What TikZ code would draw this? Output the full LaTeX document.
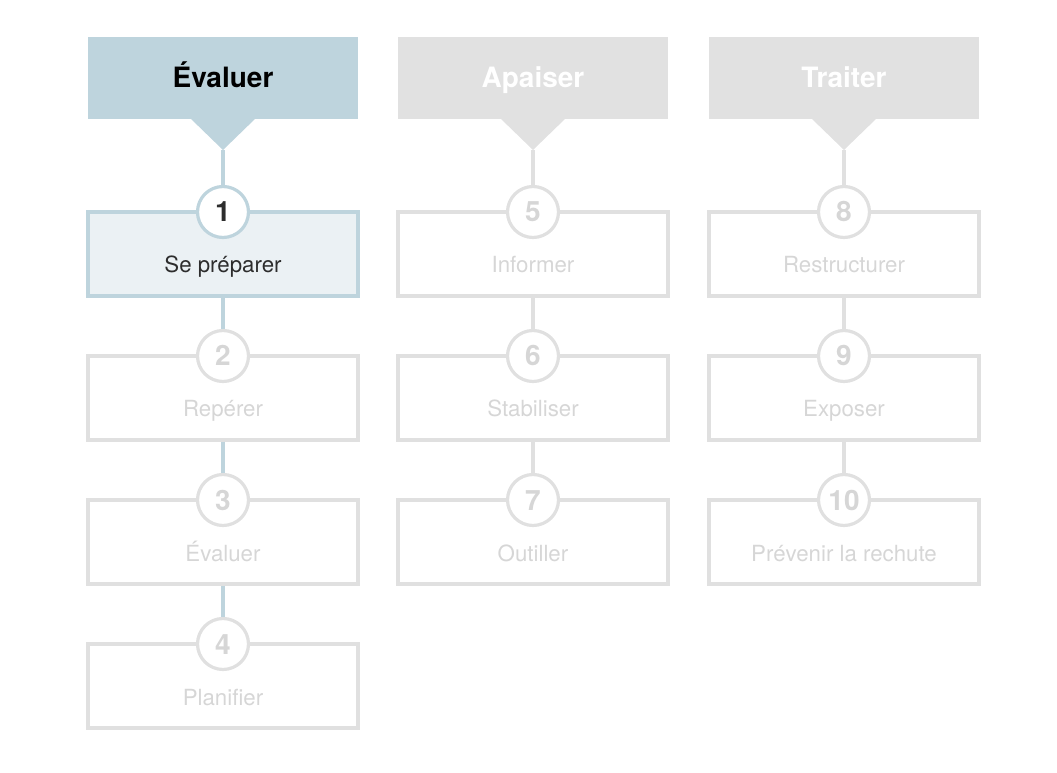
\documentclass[tikz,border=0pt]{standalone}
\usepackage{fontspec}
\setmainfont{TeX Gyre Heros}
\usetikzlibrary{positioning}
\definecolor{evalblue}{RGB}{190,212,221}
\definecolor{evalpale}{RGB}{235,241,244}
\definecolor{offgrey}{RGB}{225,225,225}
\definecolor{offline}{RGB}{224,224,224}
\definecolor{offtext}{RGB}{214,214,214}
\definecolor{ontext}{RGB}{45,45,45}
\tikzset{
	header/.style={fill=#1, minimum width=202.5pt, minimum height=61.5pt, inner sep=0pt, text height=15.5pt, text depth=1pt, font=\fontsize{21}{24}\selectfont\bfseries},
	stepbox/.style={draw=#1, line width=2.4pt, minimum width=202.5pt, minimum height=63pt, inner sep=0pt},
	num/.style={circle, draw=#1, fill=white, line width=2.4pt, minimum size=38.25pt, inner sep=0pt, text height=15pt, text depth=0pt, font=\fontsize{21}{24}\selectfont\bfseries},
	steptext/.style={anchor=base, font=\fontsize{16.7}{19}\selectfont},
	link/.style={draw=#1, line width=2.4pt}
}
\begin{document}
\begin{tikzpicture}[x=0.75pt, y=-0.75pt]
		%%%%% START %%%%%
		\useasboundingbox (0, 0) rectangle (1057, 773);
		
		% headers
		\node[header=evalblue, text=black] (h1) at (223, 78) {Évaluer};
		\fill[evalblue] (190, 118) -- (256, 118) -- (223, 150) -- cycle;
		\coordinate (t1) at (223, 150);
		
		\node[header=offgrey, text=white] (h2) at (533, 78) {Apaiser};
		\fill[offgrey] (500, 118) -- (566, 118) -- (533, 150) -- cycle;
		\coordinate (t2) at (533, 150);
		
		\node[header=offgrey, text=white] (h3) at (844, 78) {Traiter};
		\fill[offgrey] (811, 118) -- (877, 118) -- (844, 150) -- cycle;
		\coordinate (t3) at (844, 150);
		
		% column 1
		\node[stepbox=evalblue, fill=evalpale] (b1) at (223, 254) {};
		\node[stepbox=offline] (b2) at (223, 398) {};
		\node[stepbox=offline] (b3) at (223, 542) {};
		\node[stepbox=offline] (b4) at (223, 686) {};
		
		\node[steptext, text=ontext] (l1) at (223, 273) {Se préparer};
		\node[steptext, text=offtext] (l2) at (223, 417) {Repérer};
		\node[steptext, text=offtext] (l3) at (223, 561) {Évaluer};
		\node[steptext, text=offtext] (l4) at (223, 705) {Planifier};
		
		\node[num=evalblue, text=ontext] (c1) at (223, 212) {1};
		\node[num=offline, text=offtext] (c2) at (223, 356) {2};
		\node[num=offline, text=offtext] (c3) at (223, 500) {3};
		\node[num=offline, text=offtext] (c4) at (223, 644) {4};
		
		\draw[link=evalblue] (t1) -- (c1);
		\draw[link=evalblue] (b1) -- (c2);
		\draw[link=evalblue] (b2) -- (c3);
		\draw[link=evalblue] (b3) -- (c4);
		
		% column 2
		\node[stepbox=offline] (b5) at (533, 254) {};
		\node[stepbox=offline] (b6) at (533, 398) {};
		\node[stepbox=offline] (b7) at (533, 542) {};
		
		\node[steptext, text=offtext] (l5) at (533, 273) {Informer};
		\node[steptext, text=offtext] (l6) at (533, 417) {Stabiliser};
		\node[steptext, text=offtext] (l7) at (533, 561) {Outiller};
		
		\node[num=offline, text=offtext] (c5) at (533, 212) {5};
		\node[num=offline, text=offtext] (c6) at (533, 356) {6};
		\node[num=offline, text=offtext] (c7) at (533, 500) {7};
		
		\draw[link=offline] (t2) -- (c5);
		\draw[link=offline] (b5) -- (c6);
		\draw[link=offline] (b6) -- (c7);
		
		% column 3
		\node[stepbox=offline] (b8) at (844, 254) {};
		\node[stepbox=offline] (b9) at (844, 398) {};
		\node[stepbox=offline] (b10) at (844, 542) {};
		
		\node[steptext, text=offtext] (l8) at (844, 273) {Restructurer};
		\node[steptext, text=offtext] (l9) at (844, 417) {Exposer};
		\node[steptext, text=offtext] (l10) at (844, 561) {Prévenir la rechute};
		
		\node[num=offline, text=offtext] (c8) at (844, 212) {8};
		\node[num=offline, text=offtext] (c9) at (844, 356) {9};
		\node[num=offline, text=offtext] (c10) at (844, 500) {10};
		
		\draw[link=offline] (t3) -- (c8);
		\draw[link=offline] (b8) -- (c9);
		\draw[link=offline] (b9) -- (c10);
		%%%%% END %%%%%
	\end{tikzpicture}
\end{document}
